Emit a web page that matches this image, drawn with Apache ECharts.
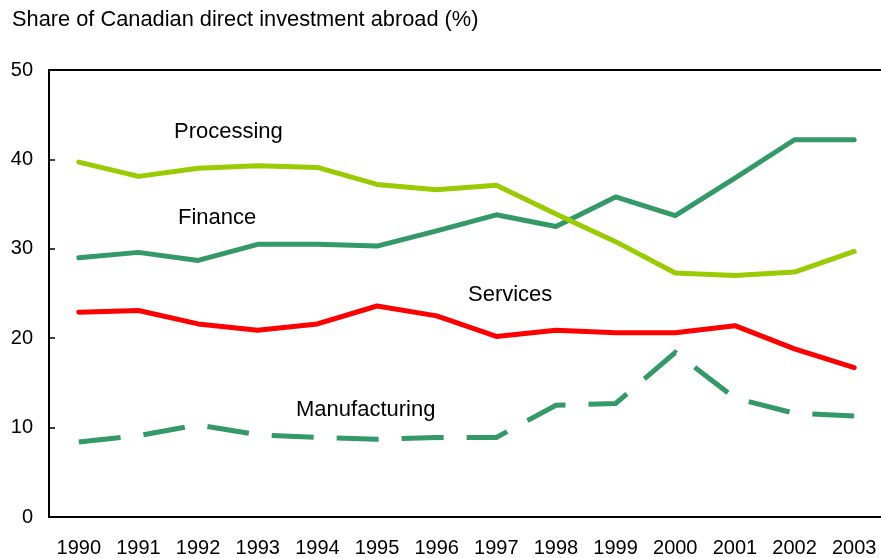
<!DOCTYPE html>
<html>
<head>
<meta charset="utf-8">
<script src="https://cdn.jsdelivr.net/npm/echarts@6/dist/echarts.min.js"></script>
<style>
html, body { margin: 0; padding: 0; background: #fff; }
#chart { width: 881px; height: 558px; }
</style>
</head>
<body>
<div id="chart"></div>
<script>
var years = ["1990", "1991", "1992", "1993", "1994", "1995", "1996", "1997", "1998", "1999", "2000", "2001", "2002", "2003"];
var processing = [39.7, 38.1, 39.0, 39.3, 39.1, 37.2, 36.6, 37.1, 33.9, 30.8, 27.3, 27.0, 27.4, 29.7];
var finance = [29.0, 29.6, 28.7, 30.5, 30.5, 30.3, 32.0, 33.8, 32.5, 35.8, 33.7, 37.9, 42.2, 42.2];
var services = [22.9, 23.1, 21.6, 20.9, 21.6, 23.6, 22.5, 20.2, 20.9, 20.6, 20.6, 21.4, 18.8, 16.7];
var manufacturing = [8.4, 9.1, 10.3, 9.2, 8.9, 8.7, 8.9, 8.9, 12.5, 12.7, 18.4, 13.3, 11.6, 11.3];
var yTicks = [0, 10, 20, 30, 40, 50];

var font = "Liberation Sans, Arial, sans-serif";

function lineSeries(name, data, color, dashed) {
    return {
        name: name,
        type: "line",
        data: data,
        symbol: "none",
        lineStyle: {
            color: color,
            width: 5,
            type: dashed ? [42, 23] : "solid",
            cap: dashed ? "butt" : "round",
            join: dashed ? "miter" : "round"
        },
        z: dashed ? 2 : 3
    };
}

function note(text, x, y) {
    return { type: "text", left: x, top: y, style: { text: text, fill: "#000", font: "22px " + font } };
}

var option = {
    animation: false,
    backgroundColor: "#fff",
    textStyle: { fontFamily: font },
    title: {
        text: "Share of Canadian direct investment abroad (%)",
        left: 12,
        top: 9,
        padding: 0,
        textStyle: { fontSize: 21.8, fontWeight: "normal", color: "#000", fontFamily: font }
    },
    grid: {
        left: 49,
        top: 70,
        width: 835,
        height: 447,
        outerBoundsMode: "none"
    },
    xAxis: [{
        type: "category",
        data: years,
        boundaryGap: true,
        axisLine: { lineStyle: { color: "#000", width: 2 } },
        axisTick: { inside: true, length: 6, lineStyle: { color: "#000", width: 1.5 } },
        axisLabel: { color: "#000", fontSize: 20, margin: 21, fontFamily: font, interval: 0 },
        splitLine: { show: false }
    }, {
        // top frame line only
        type: "category",
        position: "top",
        data: years,
        axisLine: { lineStyle: { color: "#000", width: 2 } },
        axisTick: { show: false },
        axisLabel: { show: false },
        splitLine: { show: false }
    }],
    yAxis: {
        type: "value",
        min: yTicks[0],
        max: yTicks[yTicks.length - 1],
        interval: 10,
        axisLine: { show: true, lineStyle: { color: "#000", width: 2 } },
        axisTick: { show: true, inside: true, length: 6, lineStyle: { color: "#000", width: 1.5 } },
        axisLabel: { color: "#000", fontSize: 20, margin: 16, fontFamily: font },
        splitLine: { show: false }
    },
    graphic: [
        note("Processing", 174, 121),
        note("Finance", 178, 207),
        note("Services", 468, 284),
        note("Manufacturing", 296, 399)
    ],
    series: [
        lineSeries("Manufacturing", manufacturing, "#339966", true),
        lineSeries("Services", services, "#ff0000", false),
        lineSeries("Finance", finance, "#339966", false),
        lineSeries("Processing", processing, "#99cc00", false)
    ]
};

echarts.init(document.getElementById("chart")).setOption(option);
</script>
</body>
</html>
